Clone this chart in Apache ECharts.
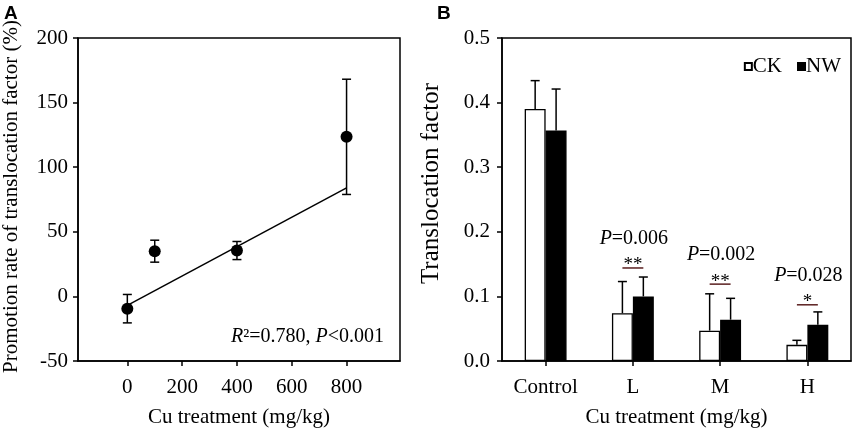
<!DOCTYPE html>
<html>
<head>
<meta charset="utf-8">
<script src="https://cdn.jsdelivr.net/npm/echarts@6/dist/echarts.min.js"></script>
<style>
html,body{margin:0;padding:0;background:#fff;}
#main{width:858px;height:433px;}
</style>
</head>
<body>
<div id="main"></div>
<script>
// Panel A data
const xA = [0, 100, 400, 800];
const yA = [-9.5, 35, 35.5, 123.5];
const errA = [11, 8.5, 7, 44.6];
const fitX = [0, 800];
const fitY = [-7, 84];
const xTicksA = [0, 200, 400, 600, 800];

// Panel B data
const categories = ['Control', 'L', 'M', 'H'];
const ck = [0.390, 0.074, 0.047, 0.025];
const ckErr = [0.044, 0.049, 0.057, 0.007];
const nw = [0.357, 0.100, 0.064, 0.056];
const nwErr = [0.064, 0.030, 0.033, 0.020];
const pLabels = ['', '0.006', '0.002', '0.028'];
const stars = ['', '**', '**', '*'];
const sigY = [null, 0.144, 0.119, 0.087];

const SERIF = '"Liberation Serif", "Times New Roman", serif';
const FS = 21;
const BARFRAC = 0.24;

const chart = echarts.init(document.getElementById('main'), null, {renderer: 'canvas'});

const axisLineStyle = {onZero: false, lineStyle: {color: '#000', width: 1.5}};
const tickStyle = {show: true, inside: false, length: 5, lineStyle: {color: '#000', width: 1.5}};

const option = {
  backgroundColor: '#fff',
  animation: false,
  textStyle: {fontFamily: SERIF},
  graphic: [
    {type: 'text', left: 4, top: 4, style: {text: 'A', font: 'bold 19px "Liberation Sans", Arial, sans-serif', fill: '#000'}},
    {type: 'text', left: 437, top: 4, style: {text: 'B', font: 'bold 19px "Liberation Sans", Arial, sans-serif', fill: '#000'}},
    {type: 'text', right: 858 - 384, top: 327, style: {
      text: '{i|R}²=0.780, {i|P}<0.001',
      font: '20px ' + SERIF, fill: '#000',
      rich: {i: {fontStyle: 'italic', fontSize: 20, fontFamily: SERIF}}
    }}
  ],
  legend: {
    data: ['CK', 'NW'],
    right: 12, top: 51,
    icon: 'rect', itemWidth: 7, itemHeight: 7, itemGap: 15,
    textStyle: {fontSize: FS, fontFamily: SERIF, color: '#000', padding: [0, 0, 0, -4]}
  },
  grid: [
    {left: 78, right: 858 - 400, top: 38, bottom: 433 - 362, show: true, borderColor: '#000', borderWidth: 1.5, backgroundColor: 'transparent'},
    {left: 502, right: 7, top: 38, bottom: 433 - 362, show: true, borderColor: '#000', borderWidth: 1.5, backgroundColor: 'transparent'}
  ],
  xAxis: [
    {
      gridIndex: 0, type: 'value', min: -180, max: 995,
      name: 'Cu treatment (mg/kg)', nameLocation: 'middle', nameGap: 46,
      nameTextStyle: {fontSize: FS, fontFamily: SERIF, color: '#000'},
      axisLine: axisLineStyle,
      axisTick: Object.assign({customValues: xTicksA}, tickStyle),
      axisLabel: {customValues: xTicksA, fontSize: FS, fontFamily: SERIF, color: '#000', margin: 16},
      splitLine: {show: false}
    },
    {
      gridIndex: 1, type: 'category', data: categories,
      name: 'Cu treatment (mg/kg)', nameLocation: 'middle', nameGap: 46,
      nameTextStyle: {fontSize: FS, fontFamily: SERIF, color: '#000'},
      axisLine: axisLineStyle,
      axisTick: Object.assign({alignWithLabel: true}, tickStyle),
      axisLabel: {fontSize: FS, fontFamily: SERIF, color: '#000', margin: 16},
      splitLine: {show: false}
    }
  ],
  yAxis: [
    {
      gridIndex: 0, type: 'value', min: -50, max: 200, interval: 50,
      name: 'Promotion rate of translocation factor (%)', nameLocation: 'middle', nameGap: 56,
      nameTextStyle: {fontSize: FS, fontFamily: SERIF, color: '#000', padding: [0, 0, 0, 6]},
      axisLine: Object.assign({show: true}, axisLineStyle),
      axisTick: tickStyle,
      axisLabel: {fontSize: FS, fontFamily: SERIF, color: '#000', margin: 10},
      splitLine: {show: false}
    },
    {
      gridIndex: 1, type: 'value', min: 0, max: 0.5, interval: 0.1,
      name: 'Translocation factor', nameLocation: 'middle', nameGap: 58,
      nameTextStyle: {fontSize: 25, fontFamily: SERIF, color: '#000', padding: [0, 0, 0, 32]},
      axisLine: Object.assign({show: true}, axisLineStyle),
      axisTick: tickStyle,
      axisLabel: {fontSize: FS, fontFamily: SERIF, color: '#000', margin: 12, formatter: v => v.toFixed(1)},
      splitLine: {show: false}
    }
  ],
  series: [
    // Panel A regression line
    {
      type: 'line', xAxisIndex: 0, yAxisIndex: 0,
      data: fitX.map((x, i) => [x, fitY[i]]),
      symbol: 'none', lineStyle: {color: '#000', width: 1.5}, silent: true, z: 2
    },
    // Panel A error bars
    {
      type: 'custom', xAxisIndex: 0, yAxisIndex: 0,
      data: xA.map((x, i) => [x, yA[i], errA[i]]),
      renderItem: function (params, api) {
        const x = api.value(0), y = api.value(1), e = api.value(2);
        const top = api.coord([x, y + e]);
        const bot = api.coord([x, y - e]);
        const cw = 4.5;
        const st = {stroke: '#000', lineWidth: 1.5};
        return {type: 'group', children: [
          {type: 'line', shape: {x1: top[0], y1: top[1], x2: bot[0], y2: bot[1]}, style: st},
          {type: 'line', shape: {x1: top[0] - cw, y1: top[1], x2: top[0] + cw, y2: top[1]}, style: st},
          {type: 'line', shape: {x1: bot[0] - cw, y1: bot[1], x2: bot[0] + cw, y2: bot[1]}, style: st}
        ]};
      },
      silent: true, z: 3
    },
    // Panel A points
    {
      type: 'scatter', xAxisIndex: 0, yAxisIndex: 0,
      data: xA.map((x, i) => [x, yA[i]]),
      symbol: 'circle', symbolSize: 12, itemStyle: {color: '#000', opacity: 1}, z: 4
    },
    // Panel B bars
    {
      name: 'CK', type: 'bar', xAxisIndex: 1, yAxisIndex: 1, data: ck,
      barWidth: (BARFRAC * 100) + '%', barGap: '0%',
      itemStyle: {color: '#fff', borderColor: '#000', borderWidth: 1.3}, z: 2
    },
    {
      name: 'NW', type: 'bar', xAxisIndex: 1, yAxisIndex: 1, data: nw,
      barWidth: (BARFRAC * 100) + '%', barGap: '0%',
      itemStyle: {color: '#000', borderColor: '#000', borderWidth: 1.3}, z: 2
    },
    // Panel B error bars (upper only)
    {
      type: 'custom', xAxisIndex: 1, yAxisIndex: 1,
      data: categories.flatMap((c, i) => [[i, ck[i], ckErr[i], -1], [i, nw[i], nwErr[i], 1]]),
      renderItem: function (params, api) {
        const i = api.value(0), v = api.value(1), e = api.value(2), s = api.value(3);
        const band = api.size([1, 0])[0];
        const base = api.coord([i, v]);
        const top = api.coord([i, v + e]);
        const x = base[0] + s * band * BARFRAC / 2;
        const cw = 4.5;
        const st = {stroke: '#000', lineWidth: 1.5};
        return {type: 'group', children: [
          {type: 'line', shape: {x1: x, y1: base[1], x2: x, y2: top[1]}, style: st},
          {type: 'line', shape: {x1: x - cw, y1: top[1], x2: x + cw, y2: top[1]}, style: st}
        ]};
      },
      silent: true, z: 3
    },
    // Panel B significance annotations
    {
      type: 'custom', xAxisIndex: 1, yAxisIndex: 1,
      data: categories.map((c, i) => [i, sigY[i] == null ? NaN : sigY[i]]).filter(d => !isNaN(d[1])),
      renderItem: function (params, api) {
        const i = api.value(0), y = api.value(1);
        const band = api.size([1, 0])[0];
        const p = api.coord([i, y]);
        const hw = band * BARFRAC / 2;
        return {type: 'group', children: [
          {type: 'line', shape: {x1: p[0] - hw, y1: p[1], x2: p[0] + hw, y2: p[1]}, style: {stroke: '#5a1f1f', lineWidth: 1.5}},
          {type: 'text', x: p[0], y: p[1] + 7, style: {
            text: stars[i], font: '19px ' + SERIF, fill: '#000', align: 'center', verticalAlign: 'bottom'
          }},
          {type: 'text', x: p[0] + 1, y: p[1] - 29, style: {
            text: '{i|P}=' + pLabels[i], font: '20px ' + SERIF, fill: '#000', align: 'center', verticalAlign: 'middle',
            rich: {i: {fontStyle: 'italic', fontSize: 20, fontFamily: SERIF}}
          }}
        ]};
      },
      silent: true, z: 5
    }
  ]
};
chart.setOption(option);
</script>
</body>
</html>
